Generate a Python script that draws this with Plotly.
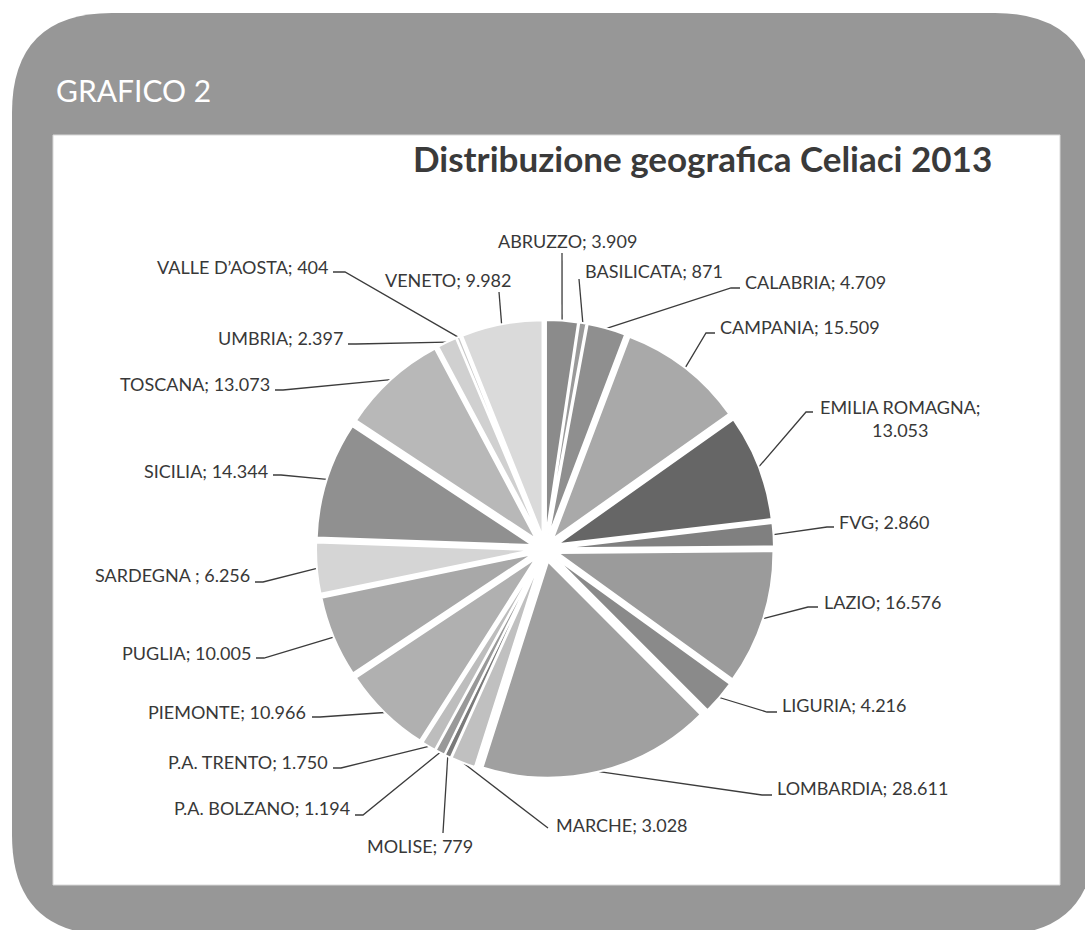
import math
import plotly.graph_objects as go

# Celiac patients by region, 2013
regions = [
    "ABRUZZO", "BASILICATA", "CALABRIA", "CAMPANIA", "EMILIA ROMAGNA", "FVG",
    "LAZIO", "LIGURIA", "LOMBARDIA", "MARCHE", "MOLISE", "P.A. BOLZANO",
    "P.A. TRENTO", "PIEMONTE", "PUGLIA", "SARDEGNA", "SICILIA", "TOSCANA",
    "UMBRIA", "VALLE D\u2019AOSTA", "VENETO",
]
patients = [
    3909, 871, 4709, 15509, 13053, 2860,
    16576, 4216, 28611, 3028, 779, 1194,
    1750, 10966, 10005, 6256, 14344, 13073,
    2397, 404, 9982,
]
# label text exactly as printed next to each slice
label_texts = [
    "ABRUZZO; 3.909", "BASILICATA; 871", "CALABRIA; 4.709", "CAMPANIA; 15.509",
    "EMILIA ROMAGNA;<br>13.053", "FVG; 2.860", "LAZIO; 16.576", "LIGURIA; 4.216",
    "LOMBARDIA; 28.611", "MARCHE; 3.028", "MOLISE; 779", "P.A. BOLZANO; 1.194",
    "P.A. TRENTO; 1.750", "PIEMONTE; 10.966", "PUGLIA; 10.005", "SARDEGNA ; 6.256",
    "SICILIA; 14.344", "TOSCANA; 13.073", "UMBRIA; 2.397", "VALLE D\u2019AOSTA; 404",
    "VENETO; 9.982",
]

# grey shades of the slices
slice_colors = [
    "#8b8b8b", "#9a9a9a", "#8f8f8f", "#a9a9a9", "#666666", "#808080",
    "#9b9b9b", "#8a8a8a", "#a0a0a0", "#c0c0c0", "#7a7a7a", "#999999",
    "#bdbdbd", "#b0b0b0", "#a8a8a8", "#d5d5d5", "#909090", "#b8b8b8",
    "#d0d0d0", "#c8c8c8", "#dadada",
]

W, H = 1085, 930
FONT = "Lato, 'Open Sans', sans-serif"
TEXT_COL = "#383838"

# pie placement in page pixels
CX, CY = 545, 549
R_OUT = 229
PULL = 0.06

# label placement: text anchor point, alignment, and leader-line points near the text
label_layout = [
    (567, 241, "center", [(562, 253)]),
    (583, 271, "left", [(579, 279)]),
    (743, 282, "left", [(740, 288), (731, 288)]),
    (718, 327, "left", [(715, 333), (706, 333)]),
    (818, 418, "left", [(813, 412), (806, 412)]),
    (837, 522, "left", [(834, 527), (827, 527)]),
    (822, 602, "left", [(818, 607), (808, 607)]),
    (780, 705, "left", [(777, 712), (767, 712)]),
    (775, 788, "left", [(772, 795), (762, 795)]),
    (554, 825, "left", [(548, 828)]),
    (420, 846, "center", [(443, 833)]),
    (352, 808, "right", [(355, 815), (363, 815)]),
    (330, 762, "right", [(333, 768), (341, 768)]),
    (308, 712, "right", [(312, 717), (320, 717)]),
    (253, 653, "right", [(256, 658), (264, 658)]),
    (252, 575, "right", [(255, 582), (263, 582)]),
    (270, 471, "right", [(273, 475), (281, 475)]),
    (272, 384, "right", [(275, 390), (283, 390)]),
    (345, 338, "right", [(348, 344), (356, 344)]),
    (330, 267, "right", [(333, 272), (345, 272)]),
    (383, 280, "left", [(499, 292)]),
]

fig = go.Figure()

# pie domain (paper fractions, y measured upward)
dom_x = [(CX - R_OUT) / W, (CX + R_OUT) / W]
dom_y = [1 - (CY + R_OUT) / H, 1 - (CY - R_OUT) / H]

fig.add_trace(go.Pie(
    labels=regions,
    values=patients,
    sort=False,
    direction="clockwise",
    rotation=0,
    pull=[PULL] * len(patients),
    marker=dict(colors=slice_colors, line=dict(color="white", width=2)),
    textinfo="none",
    hoverinfo="label+value",
    showlegend=False,
    domain=dict(x=dom_x, y=dom_y),
))

# leader lines: from the label to each slice's outer edge at its mid-angle
total = sum(patients)
cum = 0
for val, lay in zip(patients, label_layout):
    mid = 2 * math.pi * (cum + val / 2) / total
    cum += val
    ax = CX + R_OUT * math.sin(mid)
    ay = CY - R_OUT * math.cos(mid)
    xs = [p[0] for p in lay[3]] + [ax]
    ys = [p[1] for p in lay[3]] + [ay]
    fig.add_trace(go.Scatter(
        x=xs, y=ys, mode="lines",
        line=dict(color="#3c3c3c", width=1.3),
        hoverinfo="skip", showlegend=False,
    ))

annotations = []
for txt, (tx, ty, xa, _) in zip(label_texts, label_layout):
    annotations.append(dict(
        x=tx, y=ty, xref="x", yref="y", text=txt, showarrow=False,
        xanchor=xa, yanchor="middle", align="center",
        font=dict(family=FONT, size=18, color=TEXT_COL),
    ))

annotations.append(dict(
    x=54, y=90, xref="x", yref="y", text="GRAFICO 2", showarrow=False,
    xanchor="left", yanchor="middle",
    font=dict(family=FONT, size=30, color="white"),
))
annotations.append(dict(
    x=994, y=158, xref="x", yref="y", text="<b>Distribuzione geografica Celiaci 2013</b>",
    showarrow=False, xanchor="right", yanchor="middle",
    font=dict(family=FONT, size=35, color="#3a3a3a"),
))

# grey rounded frame and white chart area
x0, y0, x1, y1, r = 12, 13, 1095, 935, 100
frame_path = (
    f"M {x0 + r},{y0} L {x1 - r},{y0} Q {x1},{y0} {x1},{y0 + r} "
    f"L {x1},{y1 - r} Q {x1},{y1} {x1 - r},{y1} "
    f"L {x0 + r},{y1} Q {x0},{y1} {x0},{y1 - r} "
    f"L {x0},{y0 + r} Q {x0},{y0} {x0 + r},{y0} Z"
)
shapes = [
    dict(type="path", path=frame_path, xref="x", yref="y",
         fillcolor="#979797", line=dict(width=0), layer="below"),
    dict(type="rect", x0=53, y0=135, x1=1060, y1=885, xref="x", yref="y",
         fillcolor="white", line=dict(color="#d8d8d8", width=1), layer="below"),
]

fig.update_layout(
    width=W, height=H,
    margin=dict(l=0, r=0, t=0, b=0),
    paper_bgcolor="white",
    plot_bgcolor="rgba(0,0,0,0)",
    xaxis=dict(range=[0, W], visible=False, fixedrange=True),
    yaxis=dict(range=[H, 0], visible=False, fixedrange=True),
    shapes=shapes,
    annotations=annotations,
    showlegend=False,
)

fig.write_html("out.html")
